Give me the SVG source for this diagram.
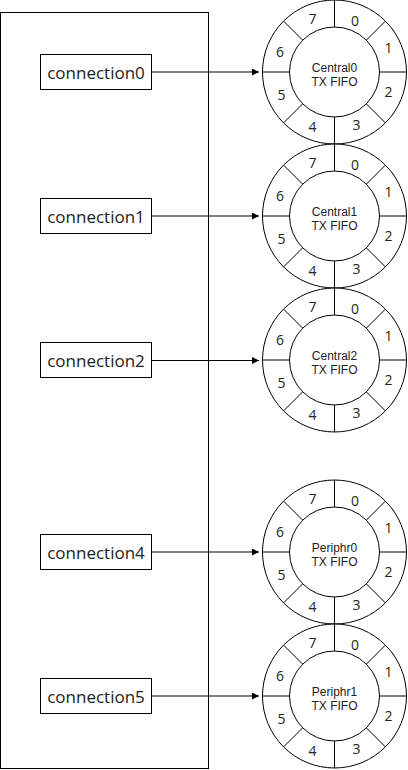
<svg xmlns="http://www.w3.org/2000/svg" width="408" height="770" viewBox="0 0 408 770">
<style>
.ln{fill:none;stroke:#000;stroke-width:1}
.bx{fill:#fff;stroke:#000;stroke-width:1}
.ct{font-family:"Open Sans","Noto Sans",sans-serif;font-size:17px;fill:#222;text-anchor:middle}
.lb{font-family:"Liberation Sans",Arial,sans-serif;font-size:12px;fill:#222;text-anchor:middle}
.nm{font-family:"Open Sans","Noto Sans",sans-serif;font-size:14px;fill:#222;text-anchor:middle}
</style>
<defs>
<g id="ring">
<circle class="bx" cx="0" cy="0" r="72"/>
<circle class="ln" cx="0" cy="0" r="45"/>
<path class="ln" d="M0,-72V-45M0,45V72M-72,0H-45M45,0H72M-50.91,-50.91L-31.82,-31.82M50.91,-50.91L31.82,-31.82M-50.91,50.91L-31.82,31.82M50.91,50.91L31.82,31.82"/>
</g>
<marker id="ah" markerWidth="8" markerHeight="8" refX="7" refY="3.5" orient="auto" markerUnits="userSpaceOnUse">
<path d="M0,0L7,3.5L0,7Z" fill="#000"/>
</marker>
</defs>
<g id="container"><rect class="ln" x="0.5" y="12.5" width="208" height="756"/></g>
<g id="connectors">
<path class="ln" d="M151.5,72H259" marker-end="url(#ah)"/>
<path class="ln" d="M151.5,216H259" marker-end="url(#ah)"/>
<path class="ln" d="M151.5,360.5H259" marker-end="url(#ah)"/>
<path class="ln" d="M151.5,552H259" marker-end="url(#ah)"/>
<path class="ln" d="M151.5,696H259" marker-end="url(#ah)"/>
</g>
<g id="connection0"><rect class="bx" x="40.5" y="54.5" width="111" height="35"/><text class="ct" x="96" y="79">connection0</text></g>
<g id="connection1"><rect class="bx" x="40.5" y="198.5" width="111" height="35"/><text class="ct" x="96" y="223">connection1</text></g>
<g id="connection2"><rect class="bx" x="40.5" y="342.5" width="111" height="35"/><text class="ct" x="96" y="367">connection2</text></g>
<g id="connection4"><rect class="bx" x="40.5" y="534.5" width="111" height="35"/><text class="ct" x="96" y="559">connection4</text></g>
<g id="connection5"><rect class="bx" x="40.5" y="678.5" width="111" height="35"/><text class="ct" x="96" y="703">connection5</text></g>
<g id="fifo-central0" transform="translate(334.5,72)"><use href="#ring"/>
<text class="lb" x="0" y="0">Central0</text><text class="lb" x="0" y="14">TX FIFO</text>
<text class="nm" x="-22" y="-48">7</text><text class="nm" x="20.5" y="-46">0</text><text class="nm" x="54" y="-18.7">1</text><text class="nm" x="54" y="25.3">2</text><text class="nm" x="22" y="58">3</text><text class="nm" x="-22" y="59.7">4</text><text class="nm" x="-53" y="28">5</text><text class="nm" x="-54.5" y="-14.7">6</text></g>
<g id="fifo-central1" transform="translate(334.5,216)"><use href="#ring"/>
<text class="lb" x="0" y="0">Central1</text><text class="lb" x="0" y="14">TX FIFO</text>
<text class="nm" x="-22" y="-48">7</text><text class="nm" x="20.5" y="-46">0</text><text class="nm" x="54" y="-18.7">1</text><text class="nm" x="54" y="25.3">2</text><text class="nm" x="22" y="58">3</text><text class="nm" x="-22" y="59.7">4</text><text class="nm" x="-53" y="28">5</text><text class="nm" x="-54.5" y="-14.7">6</text></g>
<g id="fifo-central2" transform="translate(334.5,360)"><use href="#ring"/>
<text class="lb" x="0" y="0">Central2</text><text class="lb" x="0" y="14">TX FIFO</text>
<text class="nm" x="-22" y="-48">7</text><text class="nm" x="20.5" y="-46">0</text><text class="nm" x="54" y="-18.7">1</text><text class="nm" x="54" y="25.3">2</text><text class="nm" x="22" y="58">3</text><text class="nm" x="-22" y="59.7">4</text><text class="nm" x="-53" y="28">5</text><text class="nm" x="-54.5" y="-14.7">6</text></g>
<g id="fifo-periphr0" transform="translate(334.5,552)"><use href="#ring"/>
<text class="lb" x="0" y="0">Periphr0</text><text class="lb" x="0" y="14">TX FIFO</text>
<text class="nm" x="-22" y="-48">7</text><text class="nm" x="20.5" y="-46">0</text><text class="nm" x="54" y="-18.7">1</text><text class="nm" x="54" y="25.3">2</text><text class="nm" x="22" y="58">3</text><text class="nm" x="-22" y="59.7">4</text><text class="nm" x="-53" y="28">5</text><text class="nm" x="-54.5" y="-14.7">6</text></g>
<g id="fifo-periphr1" transform="translate(334.5,696)"><use href="#ring"/>
<text class="lb" x="0" y="0">Periphr1</text><text class="lb" x="0" y="14">TX FIFO</text>
<text class="nm" x="-22" y="-48">7</text><text class="nm" x="20.5" y="-46">0</text><text class="nm" x="54" y="-18.7">1</text><text class="nm" x="54" y="25.3">2</text><text class="nm" x="22" y="58">3</text><text class="nm" x="-22" y="59.7">4</text><text class="nm" x="-53" y="28">5</text><text class="nm" x="-54.5" y="-14.7">6</text></g>
</svg>
